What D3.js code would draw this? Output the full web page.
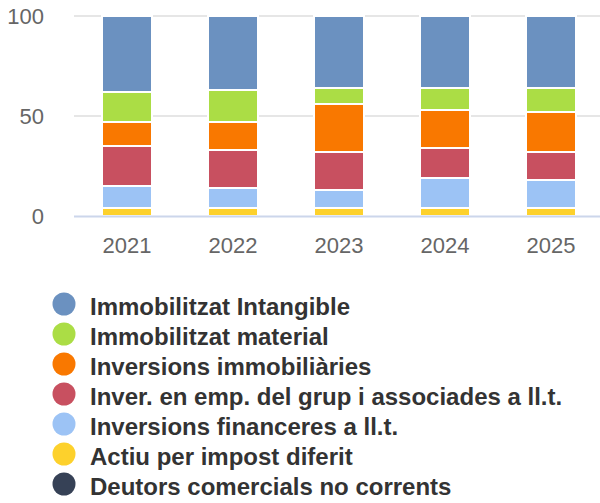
<!DOCTYPE html>
<html>
<head>
<meta charset="utf-8">
<script src="https://cdn.jsdelivr.net/npm/d3@7"></script>
<style>
  body { margin: 0; background: #fff; }
  text { font-family: "Liberation Sans", Arial, sans-serif; }
</style>
</head>
<body>
<div id="chart"></div>
<script>
const years = ['2021', '2022', '2023', '2024', '2025'];
const seriesNames = [
  'Immobilitzat Intangible',
  'Immobilitzat material',
  'Inversions immobiliàries',
  'Inver. en emp. del grup i associades a ll.t.',
  'Inversions financeres a ll.t.',
  'Actiu per impost diferit',
  'Deutors comercials no corrents'
];
const seriesColors = ['#6b91c0', '#abdd45', '#f97800', '#c85060', '#9cc3f5', '#fdd12c', '#364156'];
// percent shares per year, one array per series
const intangible = [38, 37, 36, 36, 36];
const material = [15, 16, 8, 11, 12];
const immobiliaries = [12, 14, 24, 19, 20];
const grup = [20, 19, 19, 15, 14];
const financeres = [11, 10, 9, 15, 14];
const impost = [4, 4, 4, 4, 4];
const deutors = [0, 0, 0, 0, 0];
const yTicks = [0, 50, 100];

const width = 600, height = 503;
const margin = { left: 74, right: -4, top: 16, bottom: 288 };

const allSeries = [intangible, material, immobiliaries, grup, financeres, impost, deutors];
// stacking order: last series at the bottom
const rows = years.map((y, i) => {
  const r = { year: y };
  seriesNames.forEach((n, k) => r[n] = allSeries[k][i]);
  return r;
});
const stack = d3.stack().keys(seriesNames.slice().reverse());
const layers = stack(rows);

const svg = d3.select('#chart').append('svg')
  .attr('width', width)
  .attr('height', height);

const x = d3.scaleBand()
  .domain(years)
  .range([margin.left, width - margin.right]);
const y = d3.scaleLinear()
  .domain([0, 100])
  .range([height - margin.bottom + 1, margin.top]);

// grid
svg.append('g')
  .selectAll('line')
  .data(yTicks.filter(d => d > 0))
  .enter().append('line')
  .attr('x1', margin.left)
  .attr('x2', width)
  .attr('y1', d => y(d))
  .attr('y2', d => y(d))
  .attr('stroke', '#e6e6e6')
  .attr('stroke-width', 2);

// y labels
svg.append('g')
  .selectAll('text')
  .data(yTicks)
  .enter().append('text')
  .attr('x', 44)
  .attr('y', d => y(d) + 8)
  .attr('text-anchor', 'end')
  .attr('fill', '#666')
  .attr('font-size', 22)
  .text(d => d);

const barW = 50;
svg.append('g')
  .selectAll('g')
  .data(layers)
  .enter().append('g')
  .attr('fill', d => seriesColors[seriesNames.indexOf(d.key)])
  .selectAll('rect')
  .data(d => d)
  .enter().append('rect')
  .attr('x', d => x(d.data.year) + x.bandwidth() / 2 - barW / 2)
  .attr('y', d => y(d[1]))
  .attr('width', barW)
  .attr('height', d => Math.max(0, y(d[0]) - y(d[1])))
  .attr('stroke', '#fff')
  .attr('stroke-width', 2)
  .style('display', d => d[1] - d[0] > 0 ? null : 'none');

// baseline
svg.append('line')
  .attr('x1', margin.left)
  .attr('x2', width)
  .attr('y1', y(0) + 0.5)
  .attr('y2', y(0) + 0.5)
  .attr('stroke', '#ccd6eb')
  .attr('stroke-width', 2);

// x labels
svg.append('g')
  .selectAll('text')
  .data(years)
  .enter().append('text')
  .attr('x', d => x(d) + x.bandwidth() / 2)
  .attr('y', 253)
  .attr('text-anchor', 'middle')
  .attr('fill', '#666')
  .attr('font-size', 22)
  .text(d => d);

// legend
const legend = svg.append('g')
  .selectAll('g')
  .data(seriesNames)
  .enter().append('g')
  .attr('transform', (d, i) => `translate(64, ${304 + i * 30})`);
legend.append('circle')
  .attr('r', 11.5)
  .attr('fill', (d, i) => seriesColors[i]);
legend.append('text')
  .attr('x', 26)
  .attr('y', 11)
  .attr('fill', '#333')
  .attr('font-size', 24)
  .attr('font-weight', 'bold')
  .text(d => d);
</script>
</body>
</html>
